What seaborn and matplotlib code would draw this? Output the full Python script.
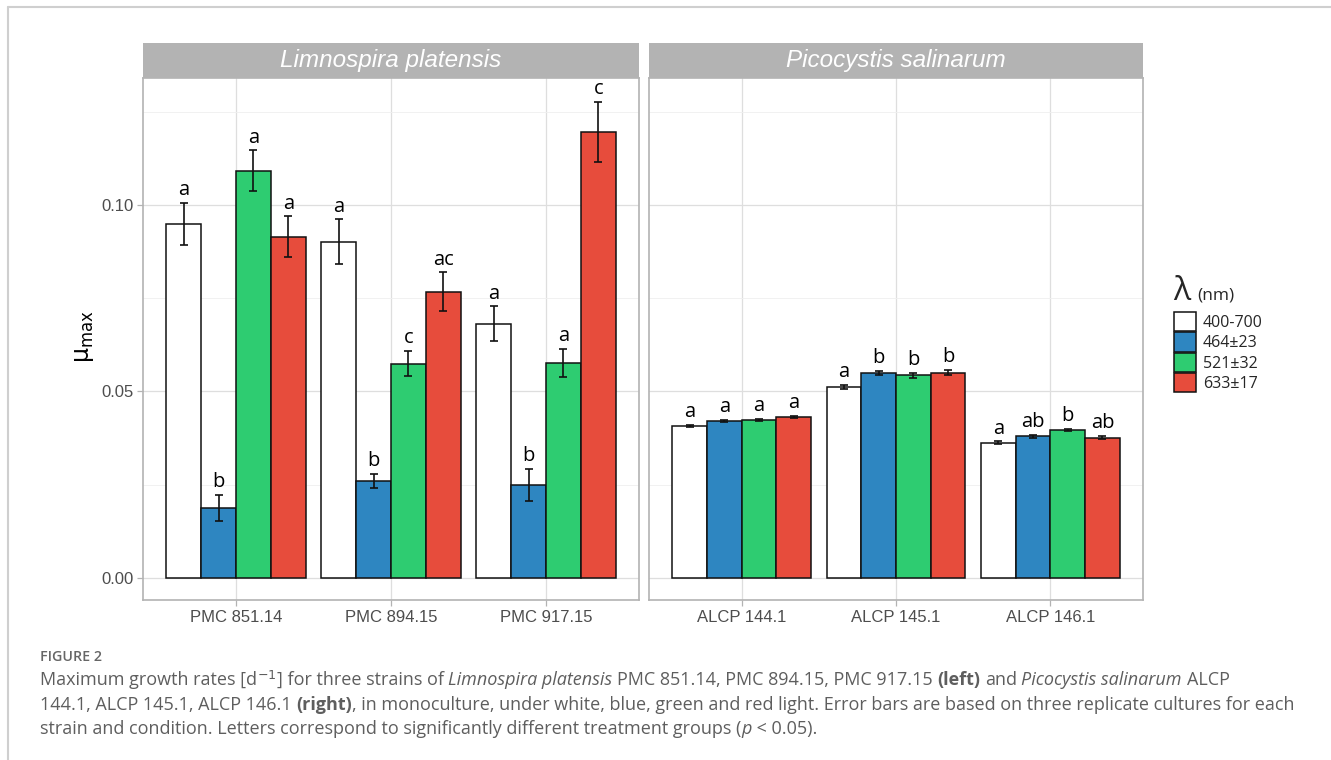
import numpy as np
import pandas as pd
import matplotlib
matplotlib.use("Agg")
import matplotlib.pyplot as plt
import seaborn as sns
from matplotlib.patches import Rectangle
from matplotlib.lines import Line2D

# ---------------- data ----------------
species = ["Limnospira platensis", "Picocystis salinarum"]
strains_left = ["PMC 851.14", "PMC 894.15", "PMC 917.15"]
strains_right = ["ALCP 144.1", "ALCP 145.1", "ALCP 146.1"]
wavelengths = ["400-700", "464±23", "521±32", "633±17"]
colors = ["#FFFFFF", "#2E86C1", "#2ECC71", "#E74C3C"]

mu_left = [[0.0949, 0.0188, 0.1091, 0.0914],
           [0.0901, 0.0260, 0.0574, 0.0767],
           [0.0681, 0.0249, 0.0576, 0.1196]]
se_left = [[0.0057, 0.0035, 0.0055, 0.0055],
           [0.0060, 0.0019, 0.0034, 0.0052],
           [0.0047, 0.0044, 0.0038, 0.0080]]
letters_left = [["a", "b", "a", "a"],
                ["a", "b", "c", "ac"],
                ["a", "b", "a", "c"]]

mu_right = [[0.0408, 0.0421, 0.0424, 0.0432],
            [0.0512, 0.0549, 0.0543, 0.0550],
            [0.0362, 0.0380, 0.0397, 0.0376]]
se_right = [[0.0003, 0.0003, 0.0003, 0.0003],
            [0.0005, 0.0006, 0.0006, 0.0007],
            [0.0004, 0.0004, 0.0003, 0.0004]]
letters_right = [["a", "a", "a", "a"],
                 ["a", "b", "b", "b"],
                 ["a", "ab", "b", "ab"]]

yticks = [0.0, 0.05, 0.10]
ytick_labels = ["0.00", "0.05", "0.10"]


def long_df(sp, strains, mu, se, let):
    rows = []
    for i, s in enumerate(strains):
        for j, w in enumerate(wavelengths):
            rows.append(dict(species=sp, strain=s, wl=w, mu=mu[i][j], se=se[i][j], letter=let[i][j]))
    return pd.DataFrame(rows)


df = pd.concat([long_df(species[0], strains_left, mu_left, se_left, letters_left),
                long_df(species[1], strains_right, mu_right, se_right, letters_right)],
               ignore_index=True)

# ---------------- figure ----------------
W, H = 1331, 760
sns.set_theme(style="white")
plt.rcParams["font.family"] = ["Liberation Sans", "DejaVu Sans"]
plt.rcParams["mathtext.fontset"] = "dejavusans"

fig = plt.figure(figsize=(W / 100, H / 100), dpi=100)
fig.patch.set_facecolor("white")

def px_axes(x0, y0, x1, y1):
    return fig.add_axes([x0 / W, 1 - y1 / H, (x1 - x0) / W, (y1 - y0) / H])

ax_l = px_axes(143, 78, 639, 600)
ax_r = px_axes(649, 78, 1143, 600)

letter_font = "Open Sans"
handles = labels = None
for ax, sp, strains in [(ax_l, species[0], strains_left), (ax_r, species[1], strains_right)]:
    sub = df[df.species == sp]
    sns.barplot(data=sub, x="strain", y="mu", hue="wl", order=strains, hue_order=wavelengths,
                palette=colors, saturation=1, edgecolor="#111111", linewidth=1.1, errorbar=None,
                width=0.9, ax=ax, zorder=3)
    if handles is None:
        handles, labels = ax.get_legend_handles_labels()
    if ax.get_legend() is not None:
        ax.get_legend().remove()
    # error bars and letters from bar positions
    for j, (w, cont) in enumerate(zip(wavelengths, ax.containers)):
        for i, bar in enumerate(cont):
            row = sub[(sub.strain == strains[i]) & (sub.wl == w)].iloc[0]
            xc = bar.get_x() + bar.get_width() / 2
            ax.errorbar(xc, row.mu, yerr=row.se, color="#111111", lw=1.2, capsize=3.2,
                        capthick=1.2, zorder=4)
            ax.annotate(row.letter, (xc, row.mu + row.se), xytext=(0, 2.0),
                        textcoords="offset points", ha="center", va="bottom",
                        fontsize=14.5, family=letter_font, color="black")
    ax.set_xlim(-0.6, 2.6)
    ax.set_ylim(-0.0059, 0.1340)
    ax.set_yticks(yticks)
    ax.set_yticks([0.025, 0.075, 0.125], minor=True)
    ax.set_axisbelow(True)
    ax.grid(which="major", axis="both", color="#dedede", lw=0.9, zorder=0)
    ax.grid(which="minor", axis="y", color="#efefef", lw=0.6, zorder=0)
    ax.xaxis.grid(True, which="major", color="#dedede", lw=0.9)
    for s in ax.spines.values():
        s.set_color("#b3b3b3")
        s.set_linewidth(1.2)
    ax.tick_params(axis="both", which="major", color="#b3b3b3", length=4, width=0.9,
                   labelcolor="#4d4d4d", labelsize=12, pad=3, bottom=True, left=True)
    ax.tick_params(axis="y", which="minor", length=0)
    ax.set_xlabel("")
    ax.set_ylabel("")
    # strip
    strip_h = 35 / 522
    ax.add_patch(Rectangle((0, 1), 1, strip_h, transform=ax.transAxes, clip_on=False,
                           facecolor="#b3b3b3", edgecolor="none"))
    ax.text(0.5, 1 + strip_h / 2, sp, transform=ax.transAxes, ha="center", va="center",
            color="white", fontsize=17.5, style="italic")

ax_l.set_yticklabels(ytick_labels)
ax_r.tick_params(axis="y", which="both", left=False, labelleft=False)

# y label
fig.text(84 / W, 1 - 337 / H, r"$\mathrm{μ}_{\mathrm{max}}$", rotation=90, ha="center", va="center",
         fontsize=17, color="black")

# legend
fig.text(1173 / W, 1 - 300 / H, "λ", fontsize=23, family="Open Sans", va="baseline", ha="left")
fig.text(1197 / W, 1 - 300 / H, "(nm)", fontsize=12.5, family="Open Sans", va="baseline", ha="left")
leg = fig.legend(handles, labels, loc="upper left", bbox_to_anchor=(1174 / W, 1 - 312 / H),
                 frameon=False, borderpad=0, borderaxespad=0, handlelength=1.35,
                 handleheight=1.5, labelspacing=0.05, handletextpad=0.45,
                 prop={"family": "Open Sans", "size": 11.5})

# outer frame
fig.add_artist(Line2D([8 / W, 8 / W], [0, 1 - 7 / H], transform=fig.transFigure,
                      color="#cfcfcf", lw=1.5))
fig.add_artist(Line2D([8 / W, 1], [1 - 7 / H, 1 - 7 / H], transform=fig.transFigure,
                      color="#cfcfcf", lw=1.5))

# caption
cap_font = "Open Sans"
cap_color = "#5e5e5e"
fig.text(40 / W, 1 - 661 / H, "FIGURE 2", fontsize=10.3, family=cap_font, color="#666666",
         va="baseline", weight="semibold")

renderer = fig.canvas.get_renderer()

lines = [
    [("Maximum growth rates [d", "normal", "normal"), ("$^{-1}$", "normal", "normal"),
     ("] for three strains of", "normal", "normal"), (" ", None, None),
     ("Limnospira platensis", "italic", "normal"), (" ", None, None),
     ("PMC 851.14, PMC 894.15, PMC 917.15", "normal", "normal"), (" ", None, None),
     ("(left)", "normal", "bold"), (" ", None, None), ("and", "normal", "normal"), (" ", None, None),
     ("Picocystis salinarum", "italic", "normal"), (" ", None, None), ("ALCP", "normal", "normal")],
    [("144.1, ALCP 145.1, ALCP 146.1", "normal", "normal"), (" ", None, None),
     ("(right)", "normal", "bold"),
     (", in monoculture, under white, blue, green and red light. Error bars are based on three replicate cultures for each", "normal", "normal")],
    [("strain and condition. Letters correspond to significantly different treatment groups (", "normal", "normal"),
     ("p", "italic", "normal"), (" < 0.05).", "normal", "normal")],
]


def measure(txt, size, style, weight):
    t = fig.text(0, 0, txt, fontsize=size, family=cap_font, style=style, weight=weight)
    w = t.get_window_extent(renderer).width
    t.remove()
    return w


def space_w(size):
    return measure("x x", size, "normal", "normal") - measure("xx", size, "normal", "normal")


def line_width(parts, size):
    tot = 0
    for txt, st, wt in parts:
        if st is None:
            tot += space_w(size)
        else:
            tot += measure(txt, size, st, wt)
    return tot


base = 12.0
target = 1296 - 40
cap_size = base * target / line_width(lines[1], base)

baselines = [685, 710, 734]
for parts, yb in zip(lines, baselines):
    x = 40.0
    for txt, st, wt in parts:
        if st is None:
            x += space_w(cap_size)
            continue
        t = fig.text(x / W, 1 - yb / H, txt, fontsize=cap_size, family=cap_font, style=st,
                     weight=wt, color=cap_color, va="baseline", ha="left")
        x += t.get_window_extent(renderer).width

fig.savefig("out.png", dpi=100, facecolor="white")
